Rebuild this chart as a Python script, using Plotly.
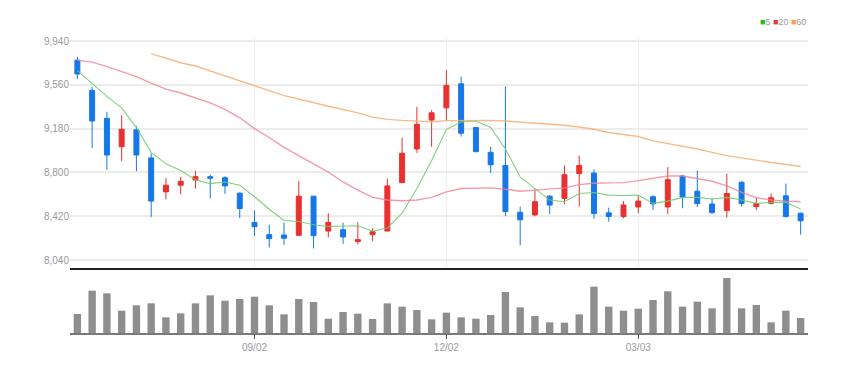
import pandas as pd
import plotly.graph_objects as go

# weekly candles
dates = list(pd.date_range("2024-06-10", periods=50, freq="7D").strftime("%Y-%m-%d"))

open_ = [9774, 9511, 9269, 9023, 9169, 8926, 8631, 8689, 8734, 8763,
         8754, 8620, 8366, 8260, 8257, 8254, 8594, 8291, 8303, 8200,
         8260, 8291, 8711, 9003, 9254, 9360, 9569, 9189, 8974, 8860,
         8454, 8431, 8594, 8574, 8789, 8794, 8449, 8417, 8500, 8589,
         8500, 8769, 8637, 8526, 8469, 8714, 8503, 8531, 8597, 8446]
high = [9803, 9540, 9326, 9297, 9203, 8966, 8751, 8760, 8814, 8780,
        8766, 8626, 8469, 8346, 8366, 8726, 8594, 8446, 8363, 8366,
        8317, 8746, 9100, 9369, 9340, 9689, 9631, 9194, 9023, 9546,
        8503, 8654, 8603, 8860, 8946, 8826, 8494, 8551, 8603, 8603,
        8846, 8774, 8817, 8574, 8789, 8723, 8580, 8617, 8703, 8451]
low = [9609, 9011, 8823, 8897, 8811, 8414, 8566, 8609, 8660, 8574,
       8614, 8403, 8249, 8149, 8171, 8254, 8140, 8237, 8180, 8174,
       8203, 8291, 8711, 8969, 9023, 9246, 9111, 8974, 8794, 8420,
       8169, 8420, 8440, 8523, 8503, 8397, 8374, 8403, 8446, 8474,
       8440, 8489, 8500, 8440, 8409, 8503, 8474, 8523, 8409, 8260]
close = [9654, 9246, 8951, 9174, 8951, 8551, 8689, 8723, 8763, 8749,
         8683, 8486, 8329, 8226, 8229, 8594, 8251, 8366, 8240, 8217,
         8286, 8683, 8966, 9217, 9317, 9554, 9140, 8980, 8866, 8460,
         8389, 8546, 8517, 8780, 8860, 8443, 8417, 8517, 8551, 8526,
         8737, 8586, 8529, 8451, 8617, 8529, 8531, 8580, 8417, 8380]

ma5 = [9683, 9574, 9460, 9360, 9189, 8974, 8874, 8817, 8737, 8703,
       8717, 8689, 8589, 8480, 8383, 8374, 8346, 8331, 8331, 8337,
       8289, 8317, 8446, 8660, 8903, 9174, 9237, 9246, 9189, 9003,
       8760, 8660, 8560, 8546, 8617, 8626, 8603, 8600, 8603, 8531,
       8551, 8583, 8583, 8569, 8583, 8560, 8531, 8540, 8540, 8483]
ma20 = [9774, 9757, 9717, 9674, 9631, 9574, 9523, 9489, 9446, 9403,
        9346, 9274, 9180, 9103, 9017, 8946, 8874, 8803, 8717, 8646,
        8583, 8560, 8554, 8560, 8583, 8631, 8660, 8666, 8666, 8654,
        8637, 8646, 8654, 8666, 8694, 8706, 8709, 8711, 8729, 8746,
        8769, 8769, 8746, 8723, 8683, 8626, 8580, 8560, 8551, 8546]
ma60 = [None, None, None, None, None, 9831, 9789, 9751, 9723, 9680,
        9640, 9597, 9556, 9511, 9466, 9437, 9403, 9374, 9346, 9317,
        9280, 9260, 9251, 9243, 9240, 9249, 9251, 9251, 9251, 9246,
        9237, 9231, 9223, 9209, 9194, 9174, 9146, 9131, 9111, 9074,
        9051, 9031, 9003, 8974, 8946, 8926, 8903, 8886, 8869, 8851]

volume = [57, 127, 119, 67, 83, 89, 47, 59, 89, 113,
          97, 102, 109, 83, 56, 102, 93, 43, 63, 58,
          42, 89, 79, 69, 41, 61, 47, 43, 54, 123,
          77, 51, 32, 31, 56, 139, 79, 67, 73, 99,
          125, 79, 94, 74, 165, 74, 84, 32, 67, 45]
volume = [v * 1000 for v in volume]

price_ticks = [8040, 8420, 8800, 9180, 9560, 9940]
x_tick_dates = ["2024-09-02", "2024-12-02", "2025-03-03"]
x_tick_text = ["09/02", "12/02", "03/03"]

RED = "#e8312f"
BLUE = "#1677e6"
FONT = "Liberation Sans Narrow, Arial Narrow, Liberation Sans, sans-serif"

# page has an 8px body margin; figure spans page px 8..858 x 8..374
W, H = 850, 366
OFF = 8
def frac(py):
    return 1 - (py - OFF) / H

fig = go.Figure()
fig.add_trace(go.Candlestick(
    x=dates, open=open_, high=high, low=low, close=close,
    increasing=dict(line=dict(color=RED, width=1), fillcolor=RED),
    decreasing=dict(line=dict(color=BLUE, width=1), fillcolor=BLUE),
    whiskerwidth=0, showlegend=False, xaxis="x", yaxis="y", name="price"))
fig.add_trace(go.Scatter(x=dates, y=ma5, mode="lines", line=dict(color="rgba(110,205,110,0.9)", width=1.1),
                         showlegend=False, xaxis="x", yaxis="y", name="5"))
fig.add_trace(go.Scatter(x=dates, y=ma20, mode="lines", line=dict(color="rgba(240,130,150,0.8)", width=1.4),
                         showlegend=False, xaxis="x", yaxis="y", name="20"))
fig.add_trace(go.Scatter(x=dates, y=ma60, mode="lines", line=dict(color="rgba(247,175,115,0.85)", width=1.4),
                         showlegend=False, xaxis="x", yaxis="y", name="60"))
fig.add_trace(go.Bar(x=dates, y=volume, marker=dict(color="#8e8e8e", line=dict(width=0)),
                     showlegend=False, xaxis="x2", yaxis="y2", name="volume"))

px_per = 1900 / 219.0
fig.update_layout(
    width=W, height=H,
    margin=dict(l=70 - OFF, r=50, t=0, b=0, autoexpand=False),
    paper_bgcolor="white", plot_bgcolor="white",
    boxgap=0.52, bargap=0.5,
    font=dict(family=FONT, color="#999999", size=10),
    xaxis=dict(type="category", categoryorder="array", categoryarray=dates,
               range=[-0.5, 49.5], domain=[0, 1], anchor="y",
               rangeslider=dict(visible=False),
               tickmode="array", tickvals=x_tick_dates, ticktext=x_tick_text,
               showticklabels=False, showgrid=True, gridcolor="#f0f0f0", gridwidth=1,
               showline=True, linecolor="#222222", linewidth=2, zeroline=False, ticks=""),
    yaxis=dict(domain=[frac(268), frac(36)],
               range=[8040 - 8 * px_per, 9940 + 5 * px_per],
               tickmode="array", tickvals=price_ticks, tickformat=",",
               showgrid=True, gridcolor="#ececec", gridwidth=1.5,
               zeroline=False, showline=False, ticks="",
               tickfont=dict(size=10, color="#9a9a9a", family=FONT)),
    xaxis2=dict(type="category", categoryorder="array", categoryarray=dates,
                range=[-0.5, 49.5], domain=[0, 1], anchor="y2",
                tickmode="array", tickvals=x_tick_dates, ticktext=x_tick_text,
                showgrid=False, showline=True, linecolor="#7a7a7a", linewidth=2,
                ticks="outside", ticklen=4, tickcolor="#555555", tickwidth=1,
                tickfont=dict(size=10, color="#9a9a9a", family=FONT), zeroline=False),
    yaxis2=dict(domain=[frac(333), frac(275)], range=[0, 174000],
                showgrid=False, showticklabels=False, zeroline=False, showline=False, ticks=""),
    annotations=[dict(
        xref="paper", yref="paper", x=1.0, y=frac(22), xanchor="right", yanchor="middle",
        showarrow=False,
        text=('<span style="color:#22bb22">■</span>5 '
              '<span style="color:#e83a3a">■</span>20 '
              '<span style="color:#f5a04a">■</span>60'),
        font=dict(size=9, color="#999999", family=FONT))],
)

fig.write_html("out.html")
